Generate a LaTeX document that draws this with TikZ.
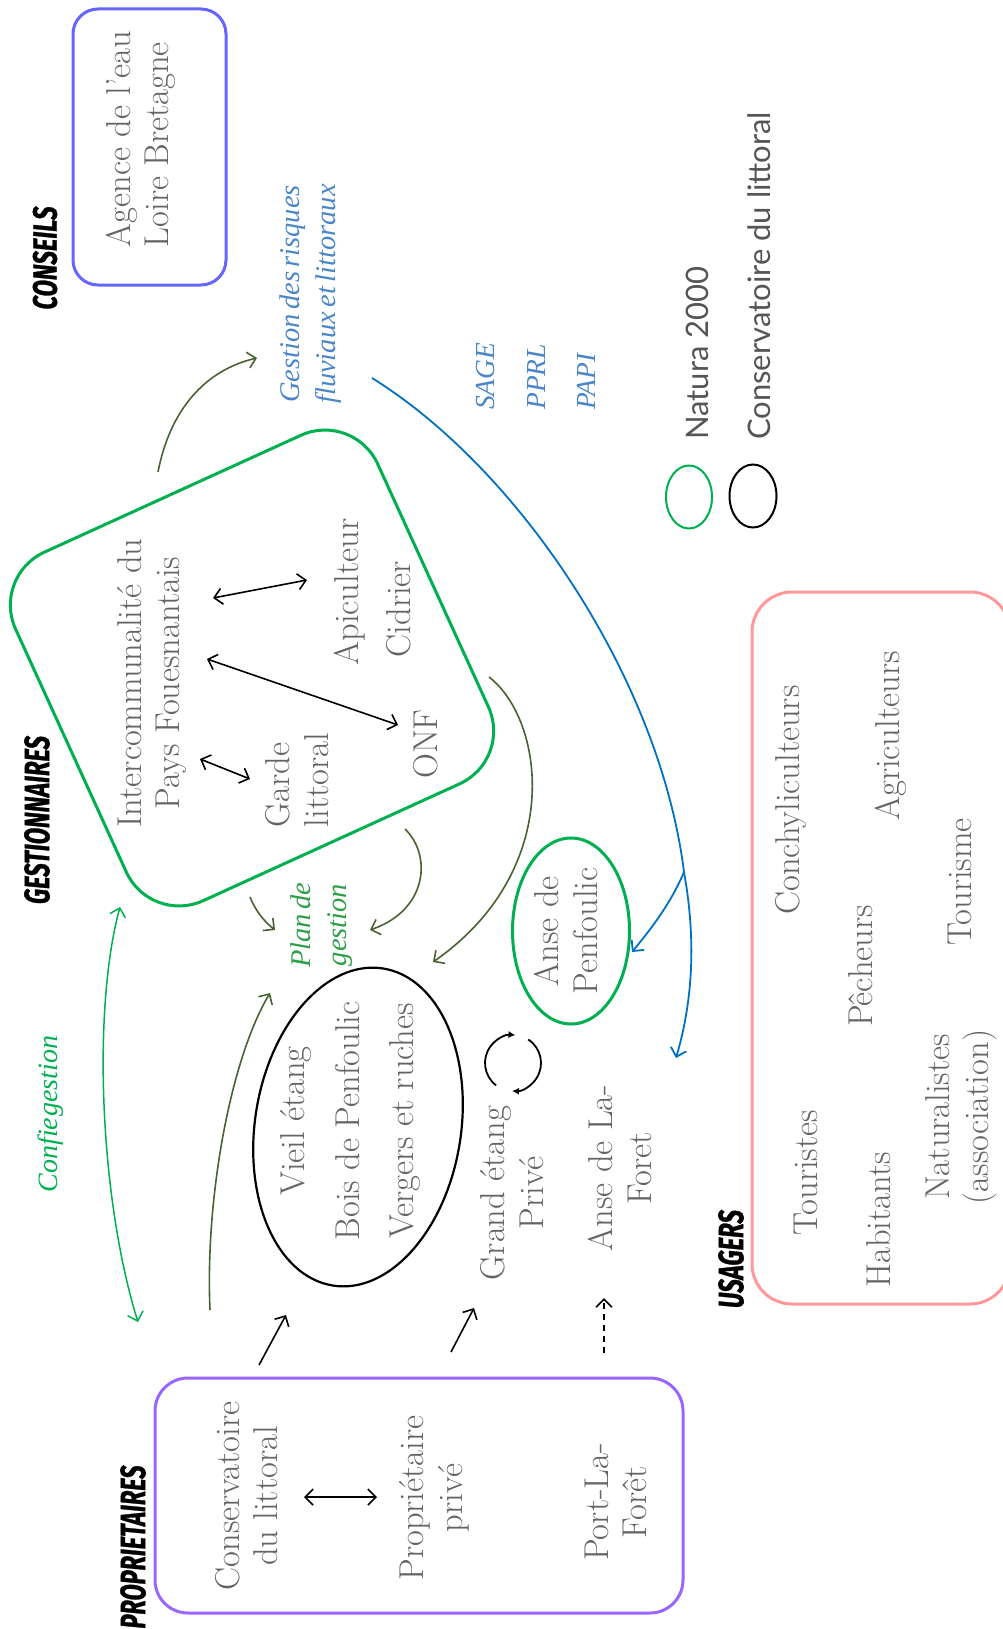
\documentclass[tikz,border=0pt]{standalone}
\usepackage{fontspec}
\usepackage{graphicx}
\usetikzlibrary{arrows.meta,shapes.geometric}
\newfontfamily\hdrfont{Fira Sans}[FakeBold=1.2]
\newfontfamily\lgdfont{Lato}
\newfontfamily\itfont{Liberation Serif}
\definecolor{gboxc}{RGB}{0,176,80}
\definecolor{olivec}{RGB}{72,98,48}
\definecolor{bluel}{RGB}{0,112,192}
\definecolor{bluet}{RGB}{74,134,200}
\definecolor{plang}{RGB}{46,158,72}
\definecolor{agc}{RGB}{102,102,255}
\definecolor{propc}{RGB}{153,102,255}
\definecolor{pinkc}{RGB}{255,153,153}
\definecolor{txtc}{RGB}{100,100,100}
\definecolor{lgdc}{RGB}{85,85,85}
\begin{document}
\begin{tikzpicture}[x=1pt,y=-1pt,
  txt/.style={rotate=90, text=txtc, font=\fontsize{34.5}{38.5}\selectfont, align=center, inner sep=0pt},
  itl/.style={rotate=90, font={\itfont\itshape\fontsize{28.5}{36}\selectfont\spaceskip=4.5pt plus 1pt\relax}, align=center, inner sep=0pt},
  abbr/.style={rotate=90, text=bluet, font={\itfont\itshape\fontsize{27.5}{30}\selectfont}, inner sep=0pt, anchor=west},
  hdr/.style={rotate=90, inner sep=0pt, font=\hdrfont\bfseries\itshape},
  lgd/.style={rotate=90, inner sep=0pt, text=lgdc, font=\lgdfont\fontsize{31}{36}\selectfont, anchor=west},
  frame/.style={draw, line width=3pt, inner sep=0pt},
  tipb/.tip={Straight Barb[length=8pt,width=16pt]},
  arr/.style={line width=1.6pt, -tipb},
  darr/.style={line width=1.6pt, tipb-tipb},
  cycarr/.style={line width=1.8pt, -{Latex[length=7pt,width=7pt]}}
]
\useasboundingbox (0,0) rectangle (1003,1629);

% ---------- headers ----------
\node[hdr] (hconseils) at (45,258) {\resizebox{103pt}{24pt}{CONSEILS}};
\node[hdr] (hgest) at (37,820) {\resizebox{168pt}{25pt}{GESTIONNAIRES}};
\node[hdr] (hprop) at (133,1547) {\resizebox{163pt}{25pt}{PROPRIETAIRES}};
\node[hdr] (husag) at (731,1259) {\resizebox{98pt}{25pt}{USAGERS}};

% ---------- frames ----------
\node[frame, draw=agc, rounded corners=25pt, minimum width=153pt, minimum height=276pt] (agbox) at (149.5,147) {};
\node[frame, draw=gboxc, rounded corners=58pt, minimum width=398pt, minimum height=383pt, rotate=24.5] (gbox) at (252,668) {};
\node[frame, draw=pinkc, rounded corners=40pt, minimum width=258pt, minimum height=712pt] (ubox) at (881,948) {};
\node[frame, draw=propc, rounded corners=33pt, minimum width=528pt, minimum height=235pt] (pbox) at (419,1495.5) {};

% ---------- ellipses ----------
\node[draw, ellipse, line width=2.2pt, minimum width=206pt, minimum height=321pt, rotate=-9, inner sep=0pt] (vieil) at (358,1127) {};
\node[draw=gboxc, ellipse, line width=3pt, minimum width=117pt, minimum height=186pt, inner sep=0pt] (anse) at (571,931) {};
\node[draw=gboxc, ellipse, line width=2pt, minimum width=46pt, minimum height=63pt, inner sep=0pt] (lgdg) at (689,497) {};
\node[draw, ellipse, line width=2pt, minimum width=47pt, minimum height=63pt, inner sep=0pt] (lgdk) at (753,496) {};

% ---------- texts ----------
\node[txt, align=left] (agence) at (141,139) {Agence de l’eau\\Loire Bretagne};
\node[itl, text=bluet] (risques) at (311,294) {Gestion des risques\\fluviaux et littoraux};
\node[abbr] (sage) at (486,410) {SAGE};
\node[abbr] (pprl) at (536,410) {PPRL};
\node[abbr] (papi) at (586,410) {PAPI};
\node[lgd] (tnat) at (697,440) {Natura 2000};
\node[lgd] (tcons) at (759,440) {Conservatoire du littoral};

\node[txt] (interco) at (152,683) {Intercommunalité du\\Pays Fouesnantais};
\node[txt] (apic) at (350,592) {Apiculteur};
\node[txt] (cidr) at (399,609) {Cidrier};
\node[txt, align=left] (garde) at (297,780) {Garde\\littoral};
\node[txt] (onf) at (426,744) {ONF};

\node[itl, text=plang] (plan) at (322,925) {Plan de\\gestion};
\node[itl, text=gboxc, font={\itfont\itshape\fontsize{28}{36}\selectfont\spaceskip=1pt\relax}] (confie) at (51,1114) {Confie gestion};

\node[txt, font=\fontsize{34.5}{54.5}\selectfont] (vieiltxt) at (351,1121) {Vieil étang\\Bois de Penfoulic\\Vergers et ruches};
\node[txt] (grand) at (512,1193) {Grand étang\\Privé};
\node[txt] (anself) at (620,1168) {Anse de La-\\Foret};
\node[txt] (ansepen) at (566,931) {Anse de\\Penfoulic};

\node[txt] (conserv) at (246.5,1496) {Conservatoire\\du littoral};
\node[txt] (propr) at (434.5,1498) {Propriétaire\\privé};
\node[txt] (port) at (616,1502) {Port-La-\\Forêt};

\node[txt] (conch) at (791,800) {Conchyliculteurs};
\node[txt] (agri) at (891,736) {Agriculteurs};
\node[txt] (tourisme) at (960,882) {Tourisme};
\node[txt] (pech) at (861,966) {Pêcheurs};
\node[txt] (touristes) at (806,1173) {Touristes};
\node[txt] (habit) at (879,1220) {Habitants};
\node[txt] (natur) at (961.5,1117) {Naturalistes\\(association)};

% ---------- connector end points ----------
\coordinate (a1s) at (213,598); \coordinate (a1e) at (307,580);
\coordinate (a2s) at (207,659); \coordinate (a2e) at (398,725);
\coordinate (a3s) at (200,759); \coordinate (a3e) at (250,779);
\coordinate (p1s) at (304,1497); \coordinate (p1e) at (377,1497);
\coordinate (b1s) at (259,1365); \coordinate (b1e) at (286,1315);
\coordinate (b2s) at (451,1352); \coordinate (b2e) at (474,1308);
\coordinate (b3s) at (604,1353); \coordinate (b3e) at (604,1298);
\coordinate (gAs) at (158,472); \coordinate (gAe) at (257,358);
\coordinate (gCs) at (405,829); \coordinate (gCe) at (370,930);
\coordinate (gDs) at (489,677); \coordinate (gDe) at (433,962);
\coordinate (gEs) at (250,897); \coordinate (gEe) at (275,930);
\coordinate (gGs) at (210,1310); \coordinate (gGe) at (270,993);
\coordinate (cfs) at (120,907); \coordinate (cfe) at (138,1322);
\coordinate (bls) at (372,378); \coordinate (blj) at (684,872);
\coordinate (ble) at (676,1058); \coordinate (blb) at (632,952);
\coordinate (cyc) at (513,1063);

% ---------- black arrows ----------
\draw[darr] (a1s) -- (a1e);
\draw[darr] (a2s) -- (a2e);
\draw[darr] (a3s) -- (a3e);
\draw[darr] (p1s) -- (p1e);
\draw[arr] (b1s) -- (b1e);
\draw[arr] (b2s) -- (b2e);
\draw[arr, dashed, dash pattern=on 6pt off 5pt] (b3s) -- (b3e);

% ---------- olive arrows ----------
\draw[arr, olivec] (gAs) .. controls (170,410) and (205,370) .. (gAe);
\draw[arr, olivec] (gCs) .. controls (432,855) and (428,910) .. (gCe);
\draw[arr, olivec] (gDs) .. controls (545,720) and (565,870) .. (gDe);
\draw[arr, olivec] (gEs) .. controls (256,912) and (265,922) .. (gEe);
\draw[arr, olivec] (gGs) .. controls (205,1200) and (230,1060) .. (gGe);

% ---------- green double arrow ----------
\draw[darr, gboxc, line width=1.5pt] (cfs) .. controls (92,1010) and (100,1200) .. (cfe);

% ---------- blue arrows ----------
\draw[arr, bluel, line width=1.8pt] (bls) .. controls (520,470) and (660,680) .. (blj) .. controls (698,950) and (690,1010) .. (ble);
\draw[arr, bluel, line width=1.8pt] (blj) .. controls (670,905) and (650,930) .. (blb);

% ---------- cycle ----------
\draw[cycarr] ([shift={(127:28)}]cyc) arc[start angle=127, end angle=275, radius=28];
\draw[cycarr] ([shift={(-57:28)}]cyc) arc[start angle=-57, end angle=92, radius=28];
\end{tikzpicture}
\end{document}
